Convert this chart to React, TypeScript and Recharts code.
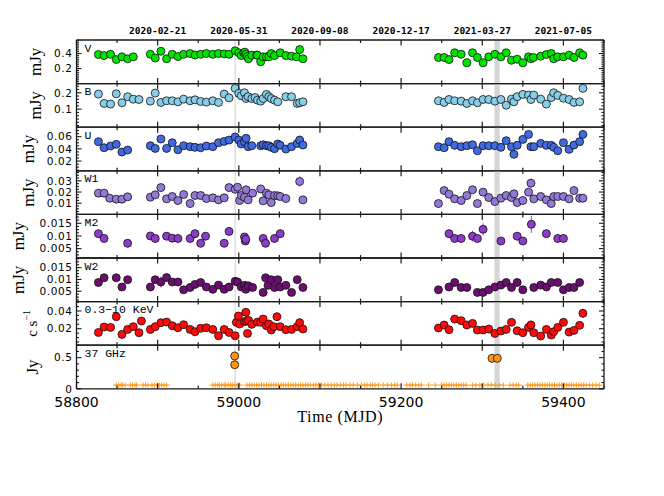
import React from 'react';
import { ScatterChart, Scatter, XAxis, YAxis, ErrorBar, ReferenceArea, ReferenceLine } from 'recharts';

// ---------------- data ----------------
const xDomain = [58800, 59450];
const xMajorTicks = [58800, 58900, 59000, 59100, 59200, 59300, 59400];
const xMinorTicks = [58850, 58950, 59050, 59150, 59250, 59350, 59450];
const mjdLabelTicks = [58800, 59000, 59200, 59400];
const dateTicks = [58900, 59000, 59100, 59200, 59300, 59400];
const dateLabels = ['2020-02-21', '2020-05-31', '2020-09-08', '2020-12-17', '2021-03-27', '2021-07-05'];

const flareLineMJD = 58995.5;
const bandStartMJD = 59315;
const bandEndMJD = 59321.5;

const vBand = [
  [58827, 0.387], [58834, 0.373], [58842, 0.39], [58849, 0.32], [58856, 0.356], [58863, 0.33], [58870, 0.356],
  [58891, 0.39], [58897, 0.34], [58904, 0.43, 0.04], [58911, 0.33], [58918, 0.39], [58925, 0.36], [58932, 0.39],
  [58940, 0.4], [58946, 0.38], [58953, 0.39], [58960, 0.4], [58968, 0.39], [58975, 0.4], [58982, 0.395], [58988, 0.39],
  [58995.5, 0.436], [59000, 0.41], [59003, 0.373], [59006, 0.41], [59007.5, 0.418], [59009, 0.39], [59010.5, 0.36],
  [59012, 0.33, 0.03], [59016, 0.378], [59022, 0.38], [59023, 0.378], [59027, 0.29], [59030, 0.356], [59034, 0.356],
  [59037, 0.356], [59040, 0.4], [59044, 0.373], [59051, 0.41], [59058, 0.373], [59065, 0.365], [59071, 0.356],
  [59075, 0.453, 0.05], [59079, 0.33],
  [59246, 0.347], [59253, 0.347], [59259, 0.32], [59266, 0.41], [59274, 0.39], [59281, 0.276], [59288, 0.41],
  [59294, 0.347], [59301, 0.276], [59308, 0.356], [59315.5, 0.39], [59323, 0.356], [59329.5, 0.41], [59336, 0.31, 0.03],
  [59343, 0.324], [59350, 0.276], [59357, 0.356], [59360, 0.33], [59363, 0.347], [59372, 0.365], [59379, 0.387],
  [59385, 0.4, 0.045], [59388, 0.33, 0.03], [59393, 0.356], [59400, 0.356], [59407, 0.378], [59413, 0.347],
  [59420, 0.41], [59424, 0.378],
];

const bBand = [
  [58827, 0.192], [58834, 0.135], [58842, 0.131], [58849, 0.194], [58856, 0.139], [58863, 0.176], [58870, 0.161],
  [58877, 0.159], [58891, 0.149], [58897, 0.198], [58904, 0.141], [58911, 0.151], [58918, 0.151], [58925, 0.145],
  [58932, 0.161], [58940, 0.151], [58946, 0.157], [58953, 0.147], [58960, 0.143], [58968, 0.151], [58975, 0.141],
  [58982, 0.192], [58988, 0.169], [58995.5, 0.227], [59000, 0.196], [59003, 0.182], [59007, 0.2], [59009, 0.165],
  [59011.5, 0.176], [59016, 0.165], [59020, 0.171], [59023, 0.155], [59027, 0.149], [59030, 0.165], [59034, 0.19],
  [59037, 0.176], [59040, 0.165], [59044, 0.155], [59048, 0.145], [59058, 0.176], [59065, 0.176], [59072, 0.135],
  [59075, 0.139], [59079, 0.145],
  [59246, 0.151], [59253, 0.141], [59259, 0.159], [59266, 0.151], [59274, 0.149], [59281, 0.135], [59288, 0.151],
  [59294, 0.139], [59301, 0.159], [59308, 0.159], [59315.5, 0.149], [59323, 0.159], [59329.5, 0.124], [59336, 0.161],
  [59339, 0.145], [59343, 0.176], [59350, 0.19], [59357, 0.186], [59360, 0.159], [59363.5, 0.186], [59372, 0.161],
  [59379, 0.131], [59385, 0.171], [59388, 0.2], [59393, 0.184], [59400, 0.167], [59407, 0.159], [59413, 0.141],
  [59420, 0.145], [59424, 0.227],
];

const uBand = [
  [58827, 0.0518], [58834, 0.0419, 0.005], [58842, 0.0447], [58849, 0.0474], [58856, 0.0348], [58863, 0.0381],
  [58891, 0.0452], [58897, 0.0408], [58904, 0.0562], [58911, 0.0408], [58918, 0.0501], [58925, 0.0386], [58932, 0.0452],
  [58940, 0.0436], [58946, 0.0425], [58953, 0.0419], [58960, 0.0447], [58968, 0.0436], [58975, 0.0501], [58982, 0.0523],
  [58988, 0.0545], [58995.5, 0.0595], [59000, 0.0545], [59003, 0.048], [59007, 0.0518], [59009, 0.0573], [59011.5, 0.0436],
  [59016, 0.0452], [59027, 0.0452], [59030, 0.0468], [59034, 0.0452], [59037, 0.0452], [59040, 0.0425], [59044, 0.0403],
  [59048, 0.048], [59051, 0.0458], [59058, 0.0397], [59065, 0.0436], [59072, 0.049], [59075, 0.0545, 0.007], [59079, 0.0463],
  [59246, 0.0436], [59253, 0.0419], [59259, 0.0518], [59266, 0.0458], [59274, 0.0436], [59281, 0.0452], [59288, 0.0468],
  [59294, 0.037], [59301, 0.0452], [59308, 0.0452], [59315.5, 0.0452], [59323, 0.0425], [59329.5, 0.0534], [59336, 0.0436],
  [59339, 0.031], [59343, 0.0458], [59350, 0.0556], [59357, 0.0638], [59360, 0.0436, 0.006], [59363.5, 0.0436, 0.006],
  [59372, 0.049], [59379, 0.0458], [59385, 0.0458], [59388, 0.0425], [59393, 0.037], [59400, 0.0501], [59407, 0.0392],
  [59413, 0.0463], [59420, 0.0518], [59424, 0.0638, 0.006],
];

const w1Band = [
  [58827, 0.019], [58834, 0.019], [58841, 0.0145], [58849, 0.0136], [58856, 0.0136], [58863, 0.0157],
  [58891, 0.0154], [58897, 0.0175], [58904, 0.024], [58911, 0.0139], [58918, 0.016], [58925, 0.0124], [58932, 0.0178],
  [58940, 0.0097], [58946, 0.0169], [58953, 0.0169], [58960, 0.0142], [58968, 0.0148], [58975, 0.013], [58982, 0.0148],
  [58988, 0.024], [58995.5, 0.0225], [58998.5, 0.0243], [59001, 0.0124], [59003, 0.0169], [59007, 0.0154], [59009, 0.022],
  [59011.5, 0.013], [59017, 0.019], [59027, 0.0228], [59030, 0.0121], [59034, 0.019], [59037, 0.0175], [59040, 0.0106],
  [59044, 0.0169], [59048, 0.0166], [59051, 0.016], [59058, 0.0142], [59075, 0.0294, 0.005], [59079, 0.013],
  [59246, 0.0097], [59253, 0.0213], [59259, 0.0181], [59266, 0.0139], [59274, 0.0124], [59281, 0.0169], [59288, 0.022],
  [59294, 0.0097], [59301, 0.0199], [59308, 0.0151], [59315.5, 0.0115], [59323, 0.0145], [59329.5, 0.0169], [59336, 0.0151],
  [59339, 0.0184], [59343, 0.0106], [59350, 0.0124], [59357, 0.0199], [59360, 0.0279, 0.004], [59363.5, 0.0139],
  [59372, 0.016], [59379, 0.013], [59385, 0.0097], [59388, 0.016], [59393, 0.016], [59400, 0.016], [59407, 0.0139],
  [59413, 0.0213], [59420, 0.0145], [59424, 0.0145],
];

const m2Band = [
  [58827, 0.0109], [58834, 0.009], [58863, 0.0071], [58891, 0.01], [58897, 0.009], [58911, 0.0099], [58918, 0.0091],
  [58925, 0.009], [58940, 0.009], [58946, 0.0109], [58953, 0.0071], [58959, 0.0099], [58982, 0.0071], [58988, 0.0118],
  [59007, 0.0096], [59008, 0.008], [59008.6, 0.0087], [59030, 0.009], [59033, 0.0071], [59044, 0.009], [59051, 0.0109],
  [59259, 0.0109], [59266, 0.009], [59274, 0.009], [59288, 0.0099, 0.0022], [59294, 0.009], [59301, 0.0126, 0.0024],
  [59323, 0.008], [59343, 0.0099], [59350, 0.008], [59360.5, 0.0146, 0.0034], [59379, 0.0109], [59393, 0.009], [59400, 0.009],
];

const w2Band = [
  [58827, 0.0087], [58834, 0.0107], [58849, 0.0107], [58856, 0.0068], [58863, 0.0099], [58891, 0.0068], [58897, 0.0099],
  [58904, 0.0089, 0.0022], [58911, 0.0108], [58918, 0.0089], [58925, 0.0089], [58932, 0.0056], [58940, 0.0066], [58946, 0.0079],
  [58953, 0.0087], [58960, 0.0068], [58968, 0.0058], [58975, 0.0076], [58982, 0.0058], [58988, 0.0068], [58995.5, 0.0092],
  [58998.5, 0.0089], [59003, 0.0068], [59007, 0.0075], [59008.6, 0.0058], [59011.5, 0.0073], [59017, 0.0066], [59030, 0.0045],
  [59033, 0.0107], [59036, 0.0075], [59040, 0.0099], [59044, 0.0066], [59048, 0.0099], [59051, 0.0068], [59058, 0.0075],
  [59065, 0.0045], [59072, 0.0099], [59079, 0.0066],
  [59246, 0.0056], [59259, 0.0068], [59266, 0.0087], [59274, 0.0066], [59281, 0.0066], [59294, 0.0045], [59301, 0.0045],
  [59308, 0.0056], [59315.5, 0.0068], [59323, 0.0076], [59329.5, 0.0087], [59336, 0.0066], [59343, 0.0087], [59350, 0.0056],
  [59363.5, 0.0066], [59372, 0.0076], [59379, 0.0068], [59385, 0.0087], [59393, 0.0087], [59400, 0.0056], [59407, 0.0066],
  [59413, 0.0066], [59420, 0.0087],
];

const xray = [
  [58827, 0.0158], [58834, 0.0219], [58842, 0.0215], [58849, 0.0336], [58856, 0.0136], [58863, 0.0192], [58870, 0.0223],
  [58877, 0.0155], [58880, 0.0287], [58891, 0.0192], [58897, 0.0223], [58904, 0.0268], [58911, 0.0275, 0.004], [58918, 0.0234],
  [58925, 0.0211], [58932, 0.0245], [58940, 0.0192], [58946, 0.0166], [58953, 0.0204], [58960, 0.0211], [58968, 0.0192],
  [58975, 0.0121], [58982, 0.0192], [58988, 0.0158], [58995.5, 0.0121], [58997, 0.0272], [58999.5, 0.0343], [59001, 0.0253],
  [59007, 0.0279], [59008.6, 0.0385, 0.005], [59009.5, 0.0287], [59010.7, 0.0147], [59012, 0.0294, 0.005], [59016, 0.0249],
  [59023, 0.0275], [59027, 0.0272], [59030, 0.0309], [59034, 0.0234], [59037, 0.0253], [59040, 0.0185], [59043, 0.0223],
  [59047, 0.0336], [59051, 0.0223], [59058, 0.0189], [59065, 0.0192], [59072, 0.0223], [59075, 0.0268, 0.005], [59079, 0.0196],
  [59246, 0.0208], [59253, 0.0242], [59259, 0.0189], [59266, 0.0309], [59274, 0.0291], [59281, 0.0242], [59288, 0.026],
  [59294, 0.0185], [59301, 0.0185], [59308, 0.0196], [59315.5, 0.0147], [59323, 0.0174], [59329.5, 0.0192], [59336, 0.0272],
  [59343, 0.0177], [59350, 0.0155], [59357, 0.0215], [59360, 0.0242, 0.005], [59363.5, 0.0155], [59372, 0.0117],
  [59379, 0.0192], [59385, 0.0128], [59388, 0.0166], [59393, 0.0215], [59400, 0.0272], [59407, 0.0162], [59413, 0.0181],
  [59420, 0.0238], [59424, 0.0374, 0.005],
];

const radioDetections = [
  [58995, 0.527], [58995, 0.387], [59312, 0.49], [59318.5, 0.49],
];

const radioNonDetectLevel = 0.06;
const radioNonDetectMJD = [
  58849, 58852, 58855, 58857, 58860, 58866, 58869, 58872, 58874,
  58882, 58885, 58888, 58893, 58896, 58899, 58902, 58905, 58908, 58911,
  58968, 58971, 58974, 58976, 58979, 58982, 58984, 58987, 58990, 58992, 58995, 58998, 59001,
  59010, 59013, 59016, 59019, 59022, 59025, 59028, 59031, 59034, 59037, 59040, 59043, 59046, 59049, 59052,
  59055, 59058, 59061, 59064, 59067, 59070, 59073, 59076, 59079, 59082, 59085, 59088, 59092, 59095, 59098,
  59102, 59106, 59110, 59114, 59118, 59121, 59125, 59129, 59132, 59137, 59141, 59146,
  59151, 59155, 59158, 59162, 59165, 59168, 59172, 59178, 59183, 59188, 59192, 59195,
  59207, 59211, 59214, 59218, 59222, 59225, 59234, 59242,
  59250, 59253, 59256, 59259, 59262, 59265, 59268, 59271, 59274, 59277, 59280,
  59288, 59292, 59297, 59302, 59307, 59311, 59316, 59321, 59326,
  59334, 59338, 59342, 59345,
  59356, 59359, 59362, 59365, 59368, 59371, 59374, 59377, 59380, 59383, 59386, 59389, 59392, 59395, 59398,
  59401, 59404, 59407, 59410, 59413, 59416, 59419, 59422, 59425, 59428, 59432, 59436, 59440, 59444,
];

// ---------------- layout / style ----------------
const W = 664;
const H = 496;
const PL = 76.5;
const PR = 604;
const T0 = 40;
const PH = 43.6;
const FRAME = '#1a1a1a';
const SANS = '"DejaVu Sans", "Liberation Sans", sans-serif';
const SERIF = '"Liberation Serif", "Times New Roman", serif';
const MONO = '"Liberation Mono", "DejaVu Sans Mono", monospace';
const DATEFONT = '"DejaVu Sans Mono", "Liberation Mono", monospace';

type PanelCfg = {
  name: string;
  unit: string;
  unitDist: number;
  points: number[][];
  err: number;
  domain: number[];
  major: number[];
  minor: number;
  fill: string;
  errColor: string;
};

const panels: PanelCfg[] = [
  { name: 'V', unit: 'mJy', unitDist: 40.5, points: vBand, err: 0.012,
    domain: [0, 0.58], major: [0.2, 0.4], minor: 0.025, fill: '#00e400', errColor: '#33ff33' },
  { name: 'B', unit: 'mJy', unitDist: 40.5, points: bBand, err: 0.005,
    domain: [-0.01, 0.256], major: [0.1, 0.2], minor: 0.02, fill: '#87cde8', errColor: '#9ad8f0' },
  { name: 'U', unit: 'mJy', unitDist: 48, points: uBand, err: 0.003,
    domain: [0.004, 0.0756], major: [0.02, 0.04, 0.06], minor: 0.005, fill: '#4169e1', errColor: '#6f8ff0' },
  { name: 'W1', unit: 'mJy', unitDist: 47.5, points: w1Band, err: 0.0018,
    domain: [0, 0.039], major: [0.01, 0.02, 0.03], minor: 0.0025, fill: '#9478d8', errColor: '#b39ce8' },
  { name: 'M2', unit: 'mJy', unitDist: 58, points: m2Band, err: 0.0016,
    domain: [0.0013, 0.0185], major: [0.005, 0.01, 0.015], minor: 0.00125, fill: '#8b3cc8', errColor: '#b46cf0' },
  { name: 'W2', unit: 'mJy', unitDist: 57.5, points: w2Band, err: 0.0013,
    domain: [0.0006, 0.0191], major: [0.005, 0.01, 0.015], minor: 0.00125, fill: '#6a0f70', errColor: '#9d4aa3' },
  { name: '0.3\u221210 KeV', unit: 'xray', unitDist: 44.5, points: xray, err: 0.0028,
    domain: [0.0014, 0.0506], major: [0.02, 0.04], minor: 0.005, fill: '#ff0a0a', errColor: '#ff5a5a' },
  { name: '37 GHz', unit: 'Jy', unitDist: 44.5, points: radioDetections, err: 0.07,
    domain: [0, 0.7], major: [0, 0.5], minor: 0.1, fill: '#ff9416', errColor: '#ff9a2a' },
];

function buildYTicks(domain: number[], step: number): number[] {
  const out: number[] = [];
  const k0 = Math.ceil(domain[0] / step - 1e-9);
  const k1 = Math.floor(domain[1] / step + 1e-9);
  for (let k = k0; k <= k1; k++) out.push(Math.round(k * step * 1e6) / 1e6);
  return out;
}

const xTicks = [...xMajorTicks, ...xMinorTicks].sort((a, b) => a - b);

const XTick = (props: any) => {
  const { x, y, payload, side, labelMode } = props;
  const v = payload.value;
  const isMajor = xMajorTicks.includes(v);
  const len = isMajor ? 5.5 : 3;
  const dir = side === 'bottom' ? -1 : 1;
  let label: any = null;
  if (labelMode === 'mjd' && mjdLabelTicks.includes(v)) {
    label = (
      <text x={x} y={y + 18} textAnchor="middle" fontFamily={SANS} fontSize={14} fill="#000">{String(v)}</text>
    );
  }
  if (labelMode === 'date') {
    const i = dateTicks.indexOf(v);
    if (i >= 0) {
      label = (
        <text x={x} y={y - 6} textAnchor="middle" fontFamily={DATEFONT} fontSize={9.5} fontWeight="bold" fill="#000">{dateLabels[i]}</text>
      );
    }
  }
  return (
    <g>
      <line x1={x} y1={y} x2={x} y2={y + dir * len} stroke={FRAME} strokeWidth={1.2} />
      {label}
    </g>
  );
};

const YTick = (props: any) => {
  const { x, y, payload, side, majors } = props;
  const v = payload.value;
  const isMajor = majors.some((m: number) => Math.abs(m - v) < 1e-9);
  const len = isMajor ? 5 : 2.5;
  const dir = side === 'left' ? 1 : -1;
  return (
    <g>
      <line x1={x} y1={y} x2={x + dir * len} y2={y} stroke={FRAME} strokeWidth={1.1} />
      {side === 'left' && isMajor ? (
        <text x={x - 4} y={y} dy="0.36em" textAnchor="end" fontFamily={SANS} fontSize={10.5} letterSpacing={0.6} fill="#000">{String(v)}</text>
      ) : null}
    </g>
  );
};

const dot = (fill: string) => (p: any) => (
  <circle cx={p.cx} cy={p.cy} r={4} fill={fill} stroke="#111" strokeWidth={0.8} />
);

const cross = (p: any) => (
  <g>
    <line x1={p.cx - 3.2} y1={p.cy} x2={p.cx + 3.2} y2={p.cy} stroke="#ff9a1a" strokeWidth={1} />
    <line x1={p.cx} y1={p.cy - 2.6} x2={p.cx} y2={p.cy + 2.6} stroke="#ff9a1a" strokeWidth={1} />
  </g>
);

function Panel({ idx, cfg }: { idx: number; cfg: PanelCfg }) {
  const top = T0 + idx * PH;
  const isFirst = idx === 0;
  const isLast = idx === panels.length - 1;
  // axes get a 1px box (a 0px axis is not drawn at all)
  const margin = { top: top - 1, bottom: H - top - PH - 1, left: 0, right: W - PR - 1 };
  const data = cfg.points.map((p) => ({ x: p[0], y: p[1], e: p.length > 2 ? p[2] : cfg.err }));
  const yTicks = buildYTicks(cfg.domain, cfg.minor);
  const axisLine = { stroke: FRAME, strokeWidth: 1.3 };

  const unitLabel = (lp: any) => {
    const vb = lp.viewBox || {};
    const cx = vb.x + vb.width - cfg.unitDist;
    const cy = vb.y + vb.height / 2;
    return (
      <text x={cx} y={cy} transform={`rotate(-90 ${cx} ${cy})`} textAnchor="middle" dominantBaseline="central"
        fontFamily={SERIF} fontSize={cfg.unit === 'xray' ? 15 : 17} fill="#000">
        {cfg.unit === 'xray' ? (
          <>c s<tspan dy={-6} fontSize={10}>{'\u22121'}</tspan></>
        ) : cfg.unit}
      </text>
    );
  };

  const nameLabel = (lp: any) => {
    const vb = lp.viewBox || {};
    return (
      <text x={vb.x + 8} y={vb.y + vb.height + 11.5} fontFamily={MONO} fontSize={11.5} fill="#000">
        {cfg.name}
      </text>
    );
  };

  const timeLabel = (lp: any) => {
    const vb = lp.viewBox || {};
    return (
      <text x={vb.x + vb.width / 2} y={vb.y + 33} textAnchor="middle" fontFamily={SERIF} fontSize={16} fill="#000"
        letterSpacing={0.6}>
        Time (MJD)
      </text>
    );
  };

  return (
    <div style={{ position: 'absolute', left: 0, top: 0, width: W, height: H }}>
      <ScatterChart width={W} height={H} margin={margin}>
        <XAxis xAxisId="b" type="number" dataKey="x" domain={xDomain} allowDataOverflow ticks={xTicks} interval={0}
          height={1} tickLine={false} tickSize={0} tickMargin={0} axisLine={axisLine}
          tick={(t: any) => <XTick {...t} side="bottom" labelMode={isLast ? 'mjd' : 'none'} />}
          label={isLast ? timeLabel : undefined} />
        <XAxis xAxisId="t" orientation="top" type="number" dataKey="x" domain={xDomain} allowDataOverflow ticks={xTicks}
          interval={0} height={1} tickLine={false} tickSize={0} tickMargin={0} axisLine={axisLine}
          tick={(t: any) => <XTick {...t} side="top" labelMode={isFirst ? 'date' : 'none'} />}
          label={nameLabel} />
        <YAxis yAxisId="l" type="number" dataKey="y" domain={cfg.domain} allowDataOverflow ticks={yTicks} interval={0}
          width={PL} tickLine={false} tickSize={0} tickMargin={0} axisLine={axisLine}
          tick={(t: any) => <YTick {...t} side="left" majors={cfg.major} />}
          label={unitLabel} />
        <YAxis yAxisId="r" orientation="right" type="number" dataKey="y" domain={cfg.domain} allowDataOverflow ticks={yTicks}
          interval={0} width={1} tickLine={false} tickSize={0} tickMargin={0} axisLine={axisLine}
          tick={(t: any) => <YTick {...t} side="right" majors={cfg.major} />} />
        <ReferenceArea xAxisId="b" yAxisId="l" x1={bandStartMJD} x2={bandEndMJD} fill="#d6d6d6" fillOpacity={1} stroke="none" />
        <ReferenceLine xAxisId="b" yAxisId="l" x={flareLineMJD} stroke="#d6d6d6" strokeWidth={1.2} />
        {isLast ? (
          <Scatter xAxisId="b" yAxisId="l" data={radioNonDetectMJD.map((m) => ({ x: m, y: radioNonDetectLevel }))}
            isAnimationActive={false} shape={cross} />
        ) : null}
        <Scatter xAxisId="b" yAxisId="l" data={data} isAnimationActive={false} shape={dot(cfg.fill)}>
          <ErrorBar dataKey="e" direction="y" width={0} stroke={cfg.errColor} strokeWidth={1.3} />
        </Scatter>
        <Scatter xAxisId="t" yAxisId="r" data={[]} isAnimationActive={false} />
      </ScatterChart>
    </div>
  );
}

export default function App() {
  return (
    <div style={{ position: 'absolute', left: 0, top: 0, width: W, height: H, background: '#fff' }}>
      {panels.map((cfg, i) => (
        <Panel key={cfg.name} idx={i} cfg={cfg} />
      ))}
    </div>
  );
}
